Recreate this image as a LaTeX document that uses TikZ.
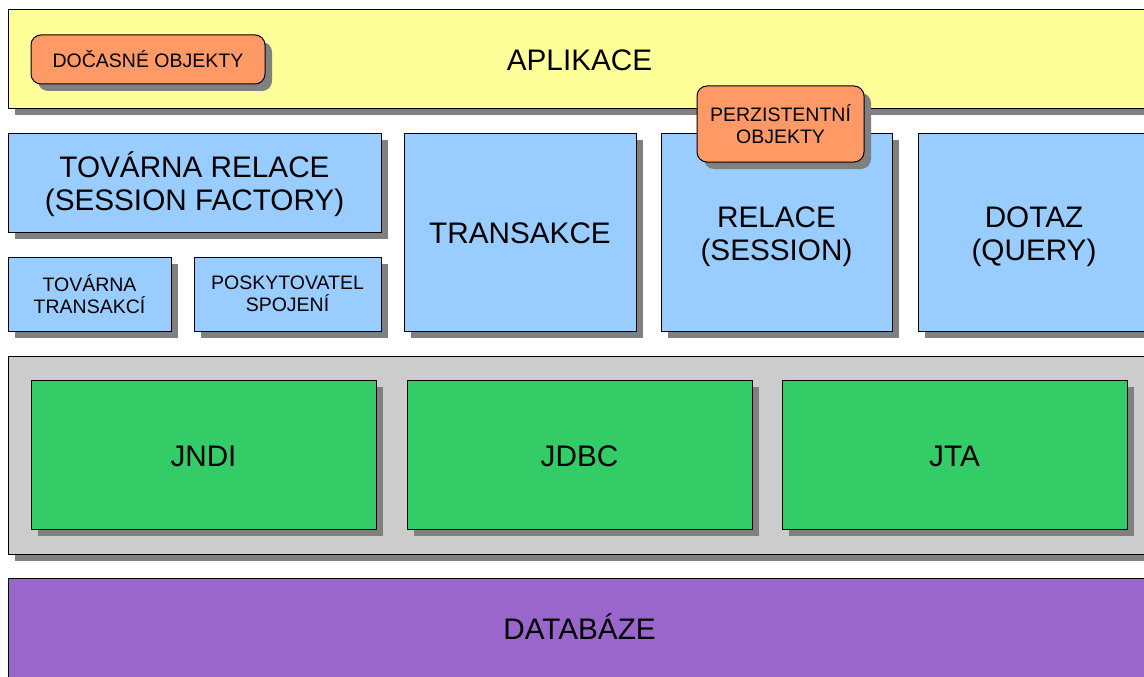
\documentclass[tikz,border=0pt]{standalone}
\usepackage{fontspec}
\setmainfont{Liberation Sans}
\usetikzlibrary{shadows}
\usetikzlibrary{positioning}

\definecolor{appyellow}{HTML}{FFFF99}
\definecolor{objorange}{HTML}{FF9966}
\definecolor{coreblue}{HTML}{99CCFF}
\definecolor{panelgray}{HTML}{CCCCCC}
\definecolor{apigreen}{HTML}{33CC66}
\definecolor{dbpurple}{HTML}{9966CC}
\definecolor{shadowgray}{HTML}{808080}

\begin{document}
\begin{tikzpicture}[x=1pt,y=-1pt,
	layer/.style={draw=black, line width=1pt, inner sep=0pt, align=center,
		drop shadow={shadow xshift=7pt, shadow yshift=-7pt, fill=shadowgray, opacity=1},
		font=\fontsize{29.7}{33}\selectfont},
	oneline/.style={text height=23pt, text depth=0pt},
	twolines/.style={text height=62pt, text depth=5.8pt},
	smalltext/.style={font=\fontsize{19.5}{22.5}\selectfont},
	objbox/.style={layer, smalltext, fill=objorange, rounded corners=10pt},
	corebox/.style={layer, fill=coreblue}
	]

	\clip (0,0) rectangle (1144,677);

	% aplikace
	\node[layer, oneline, fill=appyellow, minimum width=1143pt, minimum height=98pt] (app) at (579.5,59) {APLIKACE};
	\node[objbox, minimum width=234pt, minimum height=49pt] (tempobj) at (148,59.5) {DOČASNÉ OBJEKTY};

	% jadro
	\node[corebox, twolines, minimum width=373pt, minimum height=99pt] (sfactory) at (194.5,182.5) {TOVÁRNA RELACE\\(SESSION FACTORY)};
	\node[corebox, smalltext, minimum width=163pt, minimum height=74pt] (tfactory) at (89.5,294) {TOVÁRNA\\TRANSAKCÍ};
	\node[corebox, smalltext, minimum width=187pt, minimum height=74pt] (cprovider) at (287.5,294) {POSKYTOVATEL\\SPOJENÍ};
	\node[corebox, oneline, minimum width=232pt, minimum height=198pt] (trans) at (520,232) {TRANSAKCE};
	\node[corebox, twolines, minimum width=231pt, minimum height=198pt] (session) at (776.5,232) {RELACE\\(SESSION)};
	\node[corebox, twolines, minimum width=232pt, minimum height=198pt] (query) at (1034,232) {DOTAZ\\(QUERY)};
	\node[objbox, minimum width=167pt, minimum height=76pt] (persobj) at (780.5,124) {PERZISTENTNÍ\\OBJEKTY};

	% api
	\node[layer, fill=panelgray, minimum width=1143pt, minimum height=198pt] (api) at (579.5,455) {};
	\foreach \name/\lbl/\cx in {jndi/JNDI/203.5, jdbc/JDBC/579.5, jta/JTA/954.5}
		\node[layer, oneline, fill=apigreen, minimum width=345pt, minimum height=149pt] (\name) at (\cx,454.5) {\lbl};

	% databaze
	\node[layer, oneline, fill=dbpurple, minimum width=1143pt, minimum height=100pt] (db) at (579.5,628) {DATABÁZE};
\end{tikzpicture}
\end{document}
